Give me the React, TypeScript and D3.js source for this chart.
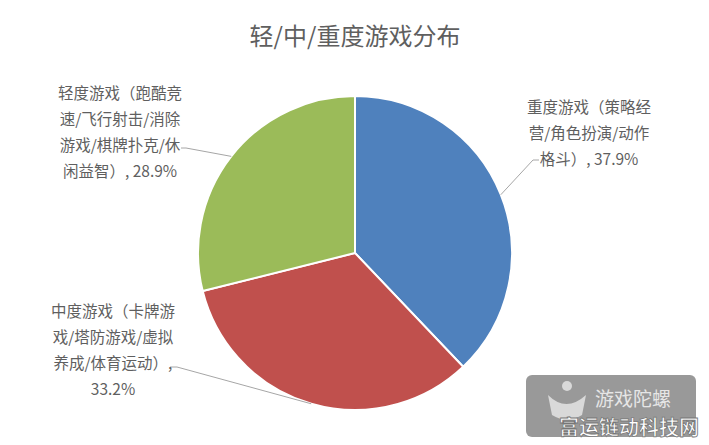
import * as d3 from "d3";

// 轻/中/重度游戏分布 — pie chart
const categories = ["重度游戏", "中度游戏", "轻度游戏"];
const shares = [37.9, 33.2, 28.9];
const colors = ["#4F81BD", "#C0504D", "#9BBB59"];
const labelLines = [
  ["重度游戏（策略经", "营/角色扮演/动作", "格斗）, 37.9%"],
  ["中度游戏（卡牌游", "戏/塔防游戏/虚拟", "养成/体育运动）,", "33.2%"],
  ["轻度游戏（跑酷竞", "速/飞行射击/消除", "游戏/棋牌扑克/休", "闲益智）, 28.9%"],
];

const W = 709;
const H = 445;
const CX = 355;
const CY = 253;
const R = 157;
const FONT = "'Microsoft YaHei', 'Noto Sans CJK SC', sans-serif";
const TEXT = "#5F5F5F";

// label block layout: center x, first baseline y, leader end point
const labelLayout = [
  { x: 589, y: 113, lx: 533, ly: 160, hx: 539 },
  { x: 113, y: 317, lx: 177, ly: 367, hx: 170 },
  { x: 120, y: 99, lx: 186, ly: 148, hx: 181 },
];
const LINE_H = 26;

export default function App() {
  const pie = d3
    .pie<number>()
    .sort(null)
    .value((d) => d);
  const arcs = pie(shares);
  const arcGen = d3.arc<d3.PieArcDatum<number>>().innerRadius(0).outerRadius(R);
  const edge = d3.arc<d3.PieArcDatum<number>>().innerRadius(R).outerRadius(R);

  return (
    <svg
      width={W}
      height={H}
      style={{ position: "absolute", left: 0, top: 0, background: "#fff" }}
    >
      <rect width={W} height={H} fill="#fff" />
      <text
        x={CX}
        y={45}
        textAnchor="middle"
        fontFamily={FONT}
        fontSize={24}
        fill={TEXT}
      >
        轻/中/重度游戏分布
      </text>

      <g transform={`translate(${CX},${CY})`}>
        {arcs.map((a, i) => (
          <path
            key={categories[i]}
            d={arcGen(a) || ""}
            fill={colors[i]}
            stroke="#fff"
            strokeWidth={2}
          />
        ))}
      </g>

      {arcs.map((a, i) => {
        const [px, py] = edge.centroid(a);
        const L = labelLayout[i];
        return (
          <polyline
            key={"l" + i}
            points={`${CX + px},${CY + py} ${L.lx},${L.ly} ${L.hx},${L.ly}`}
            fill="none"
            stroke="#A6A6A6"
            strokeWidth={1}
          />
        );
      })}

      {labelLines.map((lines, i) => {
        const L = labelLayout[i];
        return (
          <text
            key={"t" + i}
            textAnchor="middle"
            fontFamily={FONT}
            fontSize={15.5}
            fill={TEXT}
          >
            {lines.map((s, j) => (
              <tspan key={j} x={L.x} y={L.y + j * LINE_H}>
                {s}
              </tspan>
            ))}
          </text>
        );
      })}

      {/* watermark */}
      <g>
        <rect x={526} y={375} width={170} height={62} rx={6} fill="#8E8E8E" opacity={0.9} />
        <path d="M548,395 q18,18 38,0 l-4,20 q-15,9 -30,0 z" fill="#D9D9D9" />
        <circle cx={567} cy={386} r={5} fill="#D9D9D9" />
        <text x={595} y={406} fontFamily={FONT} fontSize={19} fill="#E6E6E6">
          游戏陀螺
        </text>
        <text
          x={629}
          y={435}
          textAnchor="middle"
          fontFamily={FONT}
          fontSize={20}
          fontWeight="bold"
          fill="#fff"
          stroke="#777"
          strokeWidth={0.8}
        >
          富运链动科技网
        </text>
      </g>
    </svg>
  );
}
